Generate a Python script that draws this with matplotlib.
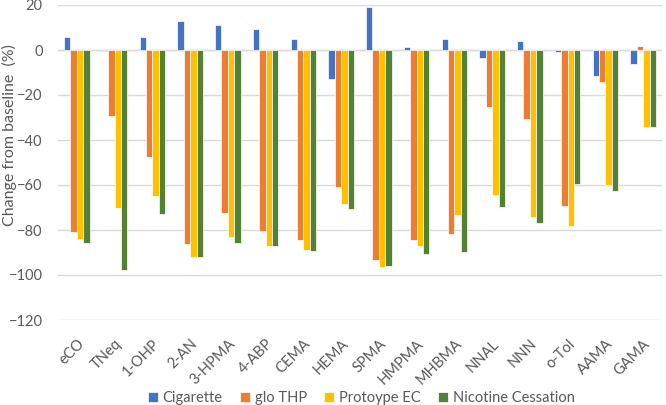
import matplotlib.pyplot as plt
import numpy as np

plt.rcParams['font.family'] = ['Lato', 'DejaVu Sans']

categories = ['eCO', 'TNeq', '1-OHP', '2-AN', '3-HPMA', '4-ABP', 'CEMA', 'HEMA',
              'SPMA', 'HMPMA', 'MHBMA', 'NNAL', 'NNN', 'o-Tol', 'AAMA', 'GAMA']
cigarette = [5.9, -0.4, 5.6, 12.7, 11.3, 9.5, 4.7, -13.0,
             19.0, 1.2, 5.0, -3.6, 4.0, -1.0, -11.4, -6.2]
glo_thp = [-80.7, -29.3, -47.7, -86.4, -72.4, -80.3, -84.4, -60.7,
           -93.5, -84.3, -81.8, -25.5, -30.7, -69.3, -14.4, 1.9]
protoype_ec = [-83.9, -70.4, -64.7, -91.9, -83.3, -87.0, -89.0, -68.3,
               -96.3, -87.1, -73.2, -64.3, -74.2, -78.2, -60.1, -34.2]
nicotine_cessation = [-85.6, -97.8, -73.0, -92.1, -85.9, -87.1, -89.5, -70.8,
                      -96.0, -90.8, -89.8, -69.6, -77.0, -59.4, -62.5, -34.2]

series = [('Cigarette', cigarette, '#4472C4'),
          ('glo THP', glo_thp, '#ED7D31'),
          ('Protoype EC', protoype_ec, '#FFC000'),
          ('Nicotine Cessation', nicotine_cessation, '#548235')]

fig = plt.figure(figsize=(6.66, 4.05), dpi=100)
ax = fig.add_axes([58 / 666, 1 - 320 / 405, 604 / 666, 315 / 405])

x = np.arange(len(categories))
w = 0.17
for i, (name, vals, col) in enumerate(series):
    ax.bar(x + (i - 1.5) * w, vals, w, color=col, edgecolor='white',
           linewidth=0.5, label=name, zorder=3)

ax.set_xlim(-0.5, len(categories) - 0.5)
ax.set_ylim(-120, 20)
ax.set_yticks(np.arange(-120, 21, 20))
ax.yaxis.grid(True, color='#D9D9D9', linewidth=1, zorder=0)
ax.axhline(0, color='#D9D9D9', linewidth=1, zorder=1)
for s in ax.spines.values():
    s.set_visible(False)
ax.tick_params(length=0, colors='#595959', labelsize=10.5)
ax.tick_params(axis='y', pad=11)
ax.set_xticks(x)
ax.set_xticklabels(categories, rotation=45, ha='right', rotation_mode='anchor')
ax.tick_params(axis='x', pad=12)
fig.text(9 / 666, 1 - 135 / 405, 'Change from baseline  (%)', color='#595959',
         fontsize=11.5, rotation=90, ha='center', va='center')

ax.legend(loc='center', bbox_to_anchor=(0.5 - 58 / 604 / 2 + 0.05, -0.247), ncol=4, frameon=False,
          fontsize=10.5, handlelength=0.7, handleheight=0.7, handletextpad=0.3,
          columnspacing=1.2, labelcolor='#595959')

fig.savefig('out.png', dpi=100)
